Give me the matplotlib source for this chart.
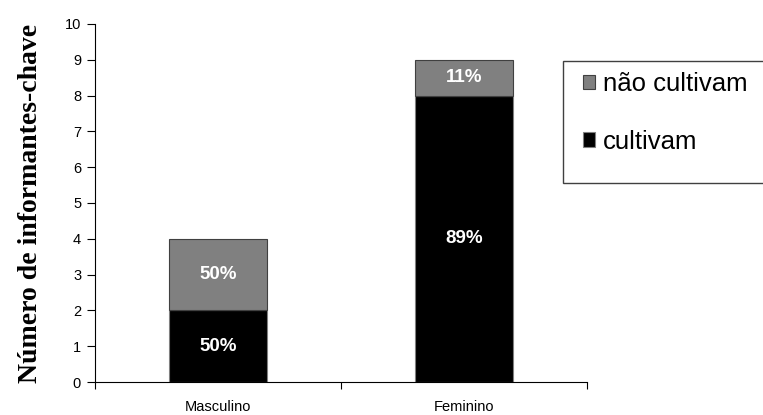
import numpy as np
import matplotlib.pyplot as plt
from matplotlib.patches import Rectangle

categorias = ['Masculino', 'Feminino']
cultivam = [2, 8]
nao_cultivam = [2, 1]
pct_cultivam = ['50%', '89%']
pct_nao = ['50%', '11%']

fig = plt.figure(figsize=(7.63, 4.15), dpi=100)
ax = fig.add_axes([0.1245, 0.0795, 0.6448, 0.8627])

x = np.arange(len(categorias))
b1 = ax.bar(x, cultivam, width=0.4, color='black', edgecolor='#808080', linewidth=0.8, label='cultivam')
b2 = ax.bar(x, nao_cultivam, width=0.4, bottom=cultivam, color='#808080', edgecolor='#404040', linewidth=0.8,
            label='não cultivam')

for i in range(len(categorias)):
    ax.text(x[i], cultivam[i] / 2, pct_cultivam[i], ha='center', va='center', color='white',
            fontsize=13.5, fontweight='bold', family='Liberation Sans')
    ax.text(x[i], cultivam[i] + nao_cultivam[i] / 2, pct_nao[i], ha='center', va='center', color='white',
            fontsize=13.5, fontweight='bold', family='Liberation Sans')

ax.set_xlim(-0.5, 1.5)
ax.set_ylim(0, 10)
ax.set_yticks(range(0, 11))
ax.set_xticks([-0.5, 0.5, 1.5])
ax.set_xticklabels([])
ax.set_xticks(x, minor=True)
ax.set_xticklabels(categorias, minor=True)
ax.tick_params(axis='x', which='minor', length=0, pad=13)
ax.tick_params(axis='x', which='major', direction='out', length=5)
ax.tick_params(axis='y', direction='out', length=6, pad=4)
for lab in ax.get_yticklabels() + ax.get_xticklabels(minor=True):
    lab.set_family('Liberation Sans')
    lab.set_fontsize(10.5)
ax.spines['top'].set_visible(False)
ax.spines['right'].set_visible(False)

ax.set_ylabel('Número de informantes-chave', family='Liberation Serif', fontsize=20,
              fontweight='bold', labelpad=16)

# legenda
fig.patches.append(Rectangle((563 / 763, 1 - 183 / 415), 0.27, 122 / 415, transform=fig.transFigure,
                             facecolor='white', edgecolor='#404040', linewidth=1))
leg = fig.legend([b2, b1], ['não cultivam', 'cultivam'], loc='upper left',
                 bbox_to_anchor=(583 / 763, 1 - 72 / 415), frameon=False,
                 prop={'family': 'Liberation Sans', 'size': 18.5}, borderpad=0, borderaxespad=0,
                 handlelength=0.47, handleheight=0.47, handletextpad=0.3, labelspacing=1.31)

fig.savefig('out.png', dpi=100)
